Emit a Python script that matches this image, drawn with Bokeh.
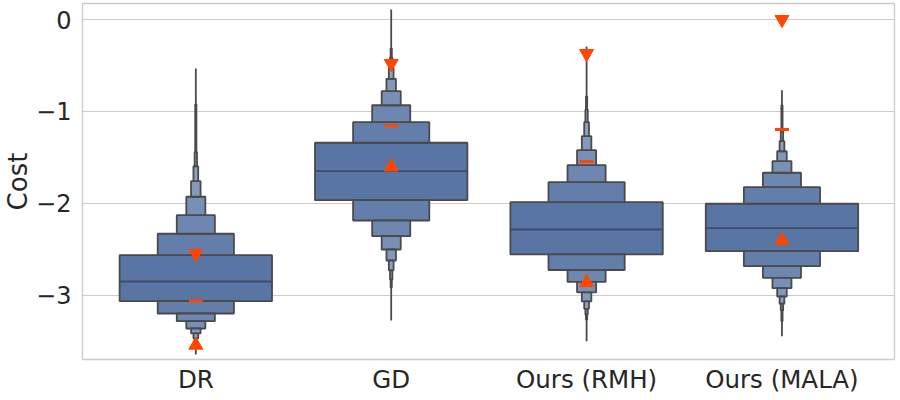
import numpy as np
from bokeh.plotting import figure
from bokeh.models import ColumnDataSource, FixedTicker, Range1d
from bokeh.embed import file_html
from bokeh.resources import INLINE

# ---------------- data ----------------
categories = ["DR", "GD", "Ours (RMH)", "Ours (MALA)"]

# letter values: upper / lower edge of each level, from the central box outward
dr_upper = [-2.562, -2.329, -2.127, -1.927, -1.758, -1.595, -1.442, -0.924]
dr_lower = [-3.062, -3.196, -3.279, -3.359, -3.413, -3.467, -3.511, -3.565]
gd_upper = [-1.340, -1.116, -0.932, -0.779, -0.645, -0.525, -0.413, -0.315]
gd_lower = [-1.964, -2.185, -2.355, -2.500, -2.620, -2.728, -2.826, -2.913]
rmh_upper = [-1.986, -1.768, -1.584, -1.421, -1.268, -1.116, -0.978, -0.837]
rmh_lower = [-2.554, -2.723, -2.853, -2.967, -3.065, -3.145, -3.207, -3.261]
mala_upper = [-2.003, -1.823, -1.666, -1.540, -1.432, -1.323, -1.214, -0.935]
mala_lower = [-2.518, -2.682, -2.808, -2.921, -3.011, -3.090, -3.160, -3.279]

medians = [-2.848, -1.649, -2.283, -2.268]
extreme_max = [-0.533, 0.109, -0.293, -0.768]
extreme_min = [-3.641, -3.272, -3.497, -3.442]

# red reference markers
marker_down = [-2.543, -0.478, -0.370, 0.000]
marker_dash = [-3.058, -1.152, -1.543, -1.196]
marker_up = [-3.540, -1.603, -2.859, -2.400]

uppers = [dr_upper, gd_upper, rmh_upper, mala_upper]
lowers = [dr_lower, gd_lower, rmh_lower, mala_lower]

# ---------------- style ----------------
BOX_WIDTH = 0.78
EDGE = "#4a4a4a"
MEDIAN = "#3f4c68"
RED = "#ff4500"
GRID = "#cccccc"
TEXT = "#262626"
FONT = "DejaVu Sans"
base = np.array([88, 117, 164])


def level_color(i):
    c = base + (255 - base) * 0.065 * i
    return "#%02x%02x%02x" % tuple(int(round(v)) for v in c)


p = figure(
    frame_width=812, frame_height=356,
    min_border_left=82, min_border_right=4, min_border_top=3, min_border_bottom=36,
    x_range=Range1d(-0.58, 3.576), y_range=Range1d(-3.696, 0.174),
    output_backend="svg", toolbar_location=None,
    background_fill_color="white", border_fill_color="white",
)

# whisker / flier extent
xs = list(range(len(categories)))
p.segment(x0=xs, y0=extreme_min, x1=xs, y1=extreme_max,
          line_color=EDGE, line_width=1.8)

# boxes
left, right, top, bottom, fill = [], [], [], [], []
for ci, (up, lo) in enumerate(zip(uppers, lowers)):
    for i in range(len(up)):
        w = BOX_WIDTH * 0.5 ** i
        if i == 0:
            spans = [(lo[0], up[0])]
        else:
            spans = [(up[i - 1], up[i]), (lo[i], lo[i - 1])]
        for b, t in spans:
            left.append(ci - w / 2)
            right.append(ci + w / 2)
            bottom.append(b)
            top.append(t)
            fill.append(level_color(i))

order = np.argsort([-(r - l) for l, r in zip(left, right)], kind="stable")
src = ColumnDataSource(dict(
    left=[left[k] for k in order], right=[right[k] for k in order],
    top=[top[k] for k in order], bottom=[bottom[k] for k in order],
    fill=[fill[k] for k in order]))
p.quad(left="left", right="right", top="top", bottom="bottom", source=src,
       fill_color="fill", line_color=EDGE, line_width=1.8)

# medians
p.segment(x0=[c - BOX_WIDTH / 2 for c in xs], y0=medians,
          x1=[c + BOX_WIDTH / 2 for c in xs], y1=medians,
          line_color=MEDIAN, line_width=1.8)

# red markers
p.scatter(xs, marker_down, marker="inverted_triangle", size=14,
          fill_color=RED, line_color=RED)
p.scatter(xs, marker_up, marker="triangle", size=14,
          fill_color=RED, line_color=RED)
p.scatter(xs, marker_dash, marker="dash", size=14,
          line_color=RED, line_width=3)

# ---------------- axes ----------------
p.xaxis.ticker = FixedTicker(ticks=xs)
p.xaxis.major_label_overrides = {i: c for i, c in enumerate(categories)}
p.yaxis.ticker = FixedTicker(ticks=[-3, -2, -1, 0])
p.yaxis.major_label_overrides = {-3: "\u22123", -2: "\u22122", -1: "\u22121", 0: "0"}
p.yaxis.axis_label = "Cost"

for ax in (p.xaxis[0], p.yaxis[0]):
    ax.axis_line_color = None
    ax.major_tick_line_color = None
    ax.minor_tick_line_color = None
    ax.major_tick_out = 0
    ax.major_tick_in = 0
    ax.major_label_text_font = FONT
    ax.major_label_text_color = TEXT
    ax.axis_label_text_font = FONT
    ax.axis_label_text_font_size = "26px"
    ax.axis_label_text_font_style = "normal"
    ax.axis_label_text_color = TEXT

p.xaxis.major_label_text_font_size = "24.5px"
p.yaxis.major_label_text_font_size = "24px"
p.xaxis.major_label_standoff = 5
p.yaxis.major_label_standoff = 11
p.yaxis.axis_label_standoff = 0

p.xgrid.grid_line_color = None
p.ygrid.grid_line_color = GRID
p.ygrid.grid_line_width = 1
p.outline_line_color = GRID
p.outline_line_width = 1.3

open("out.html", "w").write(file_html(p, INLINE))
